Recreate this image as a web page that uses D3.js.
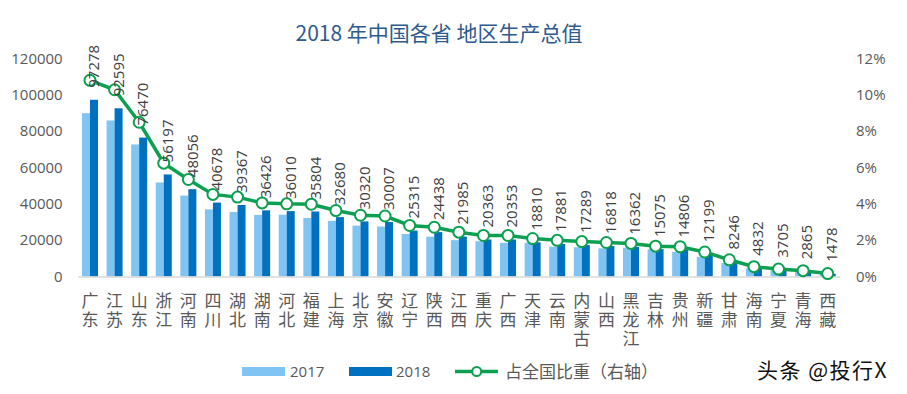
<!DOCTYPE html>
<html>
<head>
<meta charset="utf-8">
<script src="https://cdn.jsdelivr.net/npm/d3@7"></script>
<style>
  body { margin: 0; background: #fff; }
  text { font-family: "Open Sans", "Noto Sans CJK SC", sans-serif; }
</style>
</head>
<body>
<div id="chart"></div>
<script>
// provinces, GDP 2017 / 2018 (100m yuan) and share of national total (%)
var provinces = ["广东", "江苏", "山东", "浙江", "河南", "四川", "湖北", "湖南", "河北", "福建", "上海", "北京", "安徽", "辽宁", "陕西", "江西", "重庆", "广西", "天津", "云南", "内蒙古", "山西", "黑龙江", "吉林", "贵州", "新疆", "甘肃", "海南", "宁夏", "青海", "西藏"];
var gdp2017 = [89879, 85900, 72678, 51768, 44553, 36980, 35478, 33903, 34016, 32182, 30633, 28015, 27518, 23409, 21899, 20006, 19425, 18523, 18549, 16376, 16096, 15528, 15903, 14945, 13541, 10882, 7460, 4463, 3444, 2625, 1311];
var gdp2018 = [97278, 92595, 76470, 56197, 48056, 40678, 39367, 36426, 36010, 35804, 32680, 30320, 30007, 25315, 24438, 21985, 20363, 20353, 18810, 17881, 17289, 16818, 16362, 15075, 14806, 12199, 8246, 4832, 3705, 2865, 1478];
var share = [10.80, 10.28, 8.49, 6.24, 5.34, 4.52, 4.37, 4.05, 4.00, 3.98, 3.63, 3.37, 3.33, 2.81, 2.71, 2.44, 2.26, 2.26, 2.09, 1.99, 1.92, 1.87, 1.82, 1.67, 1.64, 1.35, 0.92, 0.54, 0.41, 0.32, 0.16];
var leftTicks = [0, 20000, 40000, 60000, 80000, 100000, 120000];
var rightTicks = [0, 2, 4, 6, 8, 10, 12];

var W = 907, H = 394;
var c2017 = "#7fc4f3", c2018 = "#0070c0", cLine = "#0ca050";

var svg = d3.select("#chart").append("svg")
    .attr("width", W).attr("height", H);

// scales
var x = d3.scaleBand().domain(provinces).range([77.7, 840]).padding(0);
var xs = d3.scaleBand().domain(["2017", "2018"]).range([0, 16]);
var off = (x.bandwidth() - 16) / 2;
var y = d3.scaleLinear().domain([0, 120000]).range([276.5, 58.5]);
var yR = d3.scaleLinear().domain([0, 12]).range([276.5, 58.5]);

// title
svg.append("text")
    .attr("x", 439).attr("y", 41)
    .attr("text-anchor", "middle")
    .style("font-family", "'Noto Sans CJK SC', sans-serif")
    .style("font-size", "21px")
    .style("fill", "#2e5a8e")
    .text("2018 年中国各省 地区生产总值");

// left axis
var gL = svg.append("g")
    .attr("transform", "translate(77.7,0)")
    .call(d3.axisLeft(y).tickValues(leftTicks).tickSize(0).tickPadding(15).tickFormat(d3.format("d")));
gL.select(".domain").remove();
gL.selectAll("text").style("font-size", "15px").style("fill", "#595959");

// right axis
var gR = svg.append("g")
    .attr("transform", "translate(840,0)")
    .call(d3.axisRight(yR).tickValues(rightTicks).tickSize(0).tickPadding(16).tickFormat(function(d) { return d + "%"; }));
gR.select(".domain").remove();
gR.selectAll("text").style("font-size", "15px").style("fill", "#595959");

// bars
var groups = svg.append("g").selectAll("g")
    .data(provinces)
    .enter().append("g")
    .attr("transform", function(d) { return "translate(" + (x(d) + off) + ",0)"; });

groups.append("rect")
    .attr("x", xs("2017"))
    .attr("y", function(d, i) { return y(gdp2017[i]); })
    .attr("width", xs.bandwidth())
    .attr("height", function(d, i) { return y(0) - y(gdp2017[i]); })
    .style("fill", c2017);

groups.append("rect")
    .attr("x", xs("2018"))
    .attr("y", function(d, i) { return y(gdp2018[i]); })
    .attr("width", xs.bandwidth())
    .attr("height", function(d, i) { return y(0) - y(gdp2018[i]); })
    .style("fill", c2018);

// x axis (baseline + stacked CJK labels, one char per line)
var gX = svg.append("g")
    .attr("transform", "translate(0," + y(0) + ")")
    .call(d3.axisBottom(x).tickSize(0));
gX.select(".domain").style("stroke", "#d9d9d9").style("stroke-width", 1.5);
gX.selectAll(".tick text").remove();
gX.selectAll(".tick").each(function(d) {
  var tick = d3.select(this);
  d.split("").forEach(function(ch, k) {
    tick.append("text")
      .attr("text-anchor", "middle")
      .attr("y", 30 + k * 19)
      .style("font-family", "'Noto Sans CJK SC', sans-serif")
      .style("font-size", "17px")
      .style("fill", "#595959")
      .text(ch);
  });
});

// share line (right axis)
var line = d3.line()
    .x(function(d, i) { return x(provinces[i]) + x.bandwidth() / 2; })
    .y(function(d) { return yR(d); });

svg.append("path")
    .datum(share)
    .attr("d", line)
    .style("fill", "none")
    .style("stroke", cLine)
    .style("stroke-width", 3.5);

svg.append("g").selectAll("circle")
    .data(share)
    .enter().append("circle")
    .attr("cx", function(d, i) { return x(provinces[i]) + x.bandwidth() / 2; })
    .attr("cy", function(d) { return yR(d); })
    .attr("r", 5.5)
    .style("fill", "#fff")
    .style("stroke", cLine)
    .style("stroke-width", 2);

// value labels for 2018 bars, rotated
svg.append("g").selectAll("text")
    .data(gdp2018)
    .enter().append("text")
    .attr("transform", function(d, i) {
      var cx = x(provinces[i]) + off + xs("2018") + xs.bandwidth() / 2;
      return "translate(" + cx + "," + (y(d) - 12) + ") rotate(-90)";
    })
    .attr("dy", "0.35em")
    .style("font-size", "15px")
    .style("fill", "#404040")
    .text(function(d) { return d; });

// legend
var lg = svg.append("g");
lg.append("rect").attr("x", 242).attr("y", 367).attr("width", 43).attr("height", 9).style("fill", c2017);
lg.append("text").attr("x", 290).attr("y", 377).style("font-size", "15px").style("fill", "#595959").text("2017");
lg.append("rect").attr("x", 349).attr("y", 367).attr("width", 43).attr("height", 9).style("fill", c2018);
lg.append("text").attr("x", 396).attr("y", 377).style("font-size", "15px").style("fill", "#595959").text("2018");
lg.append("line").attr("x1", 455).attr("x2", 498).attr("y1", 371.5).attr("y2", 371.5)
    .style("stroke", cLine).style("stroke-width", 3.5);
lg.append("circle").attr("cx", 476.7).attr("cy", 371.5).attr("r", 4.5)
    .style("fill", "#fff").style("stroke", cLine).style("stroke-width", 2);
lg.append("text").attr("x", 505).attr("y", 378)
    .style("font-family", "'Noto Sans CJK SC', sans-serif")
    .style("font-size", "17px").style("fill", "#595959")
    .text("占全国比重（右轴）");

// watermark
svg.append("text")
    .attr("x", 757).attr("y", 378)
    .style("font-family", "'Noto Sans CJK SC', sans-serif")
    .style("font-size", "21px")
    .style("fill", "#111")
    .style("letter-spacing", "1.5px")
    .text("头条 @投行X");
</script>
</body>
</html>
